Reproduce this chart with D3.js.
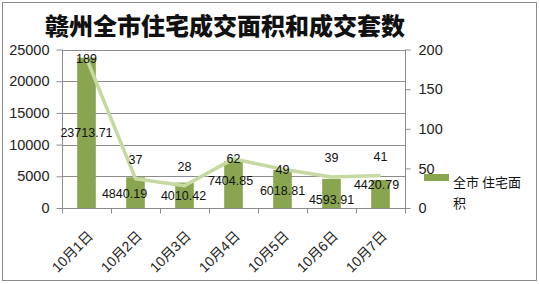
<!DOCTYPE html>
<html><head><meta charset="utf-8">
<script src="https://cdn.jsdelivr.net/npm/d3@7"></script>
<style>body{margin:0;background:#fff}svg{display:block}</style>
</head><body>
<svg id="c" width="539" height="284"></svg>
<script>
const categories = ["10月1日","10月2日","10月3日","10月4日","10月5日","10月6日","10月7日"];
const areaValues = [23713.71, 4840.19, 4010.42, 7404.85, 6018.81, 4593.91, 4420.79];
const unitCounts = [189, 37, 28, 62, 49, 39, 41];
const leftTicks = [0, 5000, 10000, 15000, 20000, 25000];
const rightTicks = [0, 50, 100, 150, 200];
const title = "赣州全市住宅成交面积和成交套数";
const legendLines = ["全市 住宅面", "积"];

const svg = d3.select("#c");
const m = {l:62, r:405, t:49.5, b:208};
const font = "'Liberation Sans', 'Noto Sans CJK SC', sans-serif";
const cjk = "'Noto Sans CJK SC', sans-serif";

svg.append("rect").attr("x",2.5).attr("y",2.5).attr("width",534).attr("height",278)
  .attr("fill","#fff").attr("stroke","#8a8a8a");

const x = d3.scaleBand().domain(categories).range([m.l, m.r]);
const yL = d3.scaleLinear().domain([0,25000]).range([m.b, m.t]);
const yR = d3.scaleLinear().domain([0,200]).range([m.b, m.t]);

// gridlines
svg.append("g").selectAll("line").data(leftTicks.slice(1)).join("line")
  .attr("x1",m.l).attr("x2",m.r).attr("y1",d=>Math.round(yL(d))+0.5).attr("y2",d=>Math.round(yL(d))+0.5)
  .attr("stroke","#8c8c8c").attr("stroke-width",1);

// left axis
const gL = svg.append("g").attr("transform",`translate(${m.l+0.5},0)`)
  .call(d3.axisLeft(yL).tickValues(leftTicks).tickSize(6).tickPadding(7).tickFormat(d3.format("d")));
gL.select(".domain").attr("stroke","#8c8c8c").attr("d",`M0,${m.t}V${m.b}`);
gL.selectAll(".tick line").attr("stroke","#8c8c8c");
gL.selectAll(".tick text").attr("font-family",font).attr("font-size",14.5).attr("fill","#222");

// right axis
const gR = svg.append("g").attr("transform",`translate(${m.r+0.5},0)`)
  .call(d3.axisRight(yR).tickValues(rightTicks).tickSize(5).tickPadding(8));
gR.select(".domain").attr("stroke","#8c8c8c").attr("d",`M0,${m.t}V${m.b}`);
gR.selectAll(".tick line").attr("stroke","#8c8c8c");
gR.selectAll(".tick text").attr("font-family",font).attr("font-size",14.5).attr("fill","#222");

// bars
const bw = x.bandwidth()*0.38;
svg.append("g").selectAll("rect").data(areaValues).join("rect")
  .attr("x",(d,i)=>x(categories[i])+x.bandwidth()/2-bw/2)
  .attr("y",d=>yL(d)).attr("width",bw).attr("height",d=>m.b-yL(d))
  .attr("fill","#8aa54f");

// bottom axis
const gB = svg.append("g").attr("transform",`translate(0,${m.b+0.5})`);
gB.append("line").attr("x1",m.l).attr("x2",m.r+1).attr("stroke","#8c8c8c");
const bounds = d3.range(categories.length+1).map(i=>m.l + i*x.step());
gB.selectAll("line.t").data(bounds).join("line").attr("class","t")
  .attr("x1",d=>Math.round(d)+0.5).attr("x2",d=>Math.round(d)+0.5).attr("y1",0).attr("y2",5)
  .attr("stroke","#8c8c8c");
gB.selectAll("text").data(categories).join("text")
  .attr("transform",d=>`translate(${x(d)+x.bandwidth()/2+4},${25}) rotate(-45)`)
  .attr("text-anchor","end").attr("dy","0.35em")
  .attr("font-family",font).attr("font-size",14).attr("fill","#222").text(d=>d);

// line
const line = d3.line().x((d,i)=>x(categories[i])+x.bandwidth()/2).y(d=>yR(d));
svg.append("path").datum(unitCounts).attr("d",line).attr("fill","none")
  .attr("stroke","#c5d9a1").attr("stroke-width",3.5).attr("stroke-linejoin","round");

// bar labels
const barLabelShift = [0,1,0,-4,2,6,-9];
svg.append("g").selectAll("text").data(areaValues).join("text")
  .attr("x",(d,i)=>x(categories[i])+x.bandwidth()/2 - [0,11,1,3,0,0,4][i])
  .attr("y",(d,i)=>(yL(d)+m.b)/2 + barLabelShift[i])
  .attr("dy","0.35em").attr("text-anchor","middle")
  .attr("font-family",font).attr("font-size",12.5).attr("fill","#111")
  .text(d=>d3.format(".2f")(d));

// count labels
const countAbove = [false,true,true,false,false,true,true];
svg.append("g").selectAll("text").data(unitCounts).join("text")
  .attr("x",(d,i)=>x(categories[i])+x.bandwidth()/2)
  .attr("y",(d,i)=>yR(d) - (countAbove[i]?19:0))
  .attr("dy","0.35em").attr("text-anchor","middle")
  .attr("font-family",font).attr("font-size",12.5).attr("fill","#111")
  .text(d=>d);

// title
svg.append("text").attr("x",225).attr("y",27).attr("dy","0.35em").attr("text-anchor","middle")
  .attr("font-family",cjk).attr("font-weight","900").attr("font-size",24).attr("fill","#111")
  .text(title);

// legend
svg.append("rect").attr("x",424).attr("y",174).attr("width",25).attr("height",7).attr("fill","#8aa54f");
svg.append("g").selectAll("text").data(legendLines).join("text")
  .attr("x",453).attr("y",(d,i)=>182+i*21).attr("dy","0.35em")
  .attr("font-family",cjk).attr("font-size",13).attr("fill","#111").text(d=>d);
</script>
</body></html>
